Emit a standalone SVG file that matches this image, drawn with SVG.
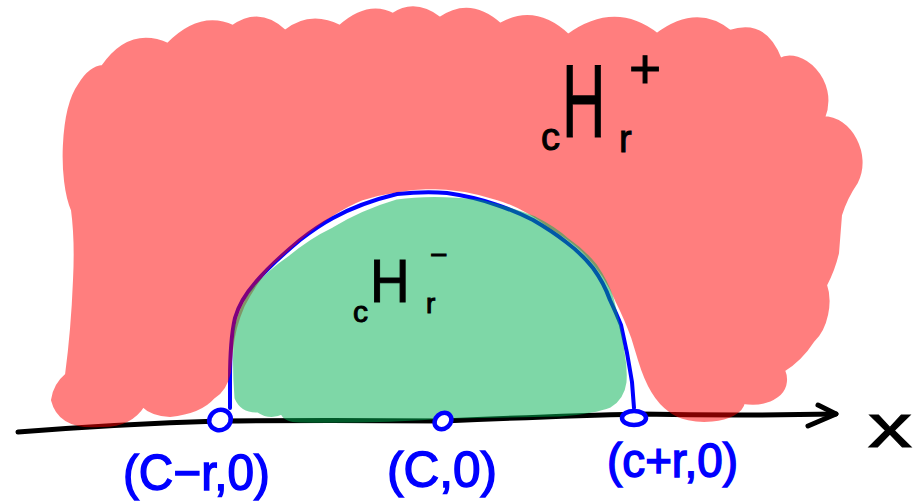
<svg xmlns="http://www.w3.org/2000/svg" width="913" height="504" viewBox="0 0 913 504">
<style>
.ink{fill:#000;font-family:"Liberation Sans",Arial,sans-serif;stroke:#000;stroke-width:1}
.lbl{fill:#00f;font-family:"Liberation Sans",Arial,sans-serif;stroke:#00f;stroke-width:1.5}
.blue{fill:none;stroke:#00f;stroke-width:4;stroke-linecap:round;stroke-linejoin:round}
.pt{fill:#fff;stroke:#00f;stroke-width:4.5}
</style>
<rect width="913" height="504" fill="#fff"/>
<g id="connectors">
<path id="axis" d="M18,432 Q120,424 220,421 Q330,420 443,421 Q560,416 640,414 Q740,416 836,414" fill="none" stroke="#000" stroke-width="5" stroke-linecap="round"/>
<path d="M818,405 L836,414 L808,426" fill="none" stroke="#000" stroke-width="5" stroke-linecap="round" stroke-linejoin="round"/>
<path id="boundary" class="blue" d="M230,408 L230,380 Q230,340 235,318 Q240,300 255,283 Q270,265 300,240 Q318,226 333,218 Q360,203 397,194 Q425,191 447,193 Q475,197 497,205 Q515,211 533,220 Q552,231 566,242 Q582,254 593,268 Q604,283 610,300 Q617,315 621,325 L627,353 Q630,370 632,382 L634,408"/>
</g>
<g id="region-plus" opacity="0.5">
<path fill="#f00" stroke="#f00" stroke-width="4" stroke-linejoin="round" d="M73,210 C60,180 62,110 80,85 Q90,68 103,67 Q130,28 168,45 Q200,12 233,27 Q260,8 285,32 Q310,12 340,27 Q368,2 393,15 Q415,0 440,19 Q470,-2 500,25 Q535,5 568,36 Q615,2 657,35 Q697,5 730,32 Q765,20 780,60 C800,48 838,80 823,118 C850,118 870,155 856,182 Q845,198 840,215 L837,253 Q833,270 825,285 C831,302 826,328 813,340 Q800,360 783,370 C792,392 770,406 743,402 C740,422 688,426 670,410 C655,400 646,380 640,360 L633,337 Q627,320 617,300 Q606,273 583,250 Q567,236 550,226 Q522,205 497,198 Q462,187 430,187 Q397,188 363,198 Q333,210 300,238 L272,263 Q256,280 243,305 Q233,328 231,350 L229,372 Q225,390 213,397 Q200,412 170,415 Q152,414 143,405 Q130,426 100,425 Q60,428 53,400 Q55,385 67,375 Q73,330 75,280 Q77,240 73,210 Z"/>
</g>
<g id="region-minus" opacity="0.5">
<path fill="#00b152" stroke="#00b152" stroke-width="3" stroke-linejoin="round" d="M236,398 Q233,360 236,328 Q241,306 254,289 Q268,272 290,257 Q310,240 333,229 Q363,211 397,201 Q430,196 480,201 Q510,208 535,218 Q555,228 568,240 Q585,252 596,266 Q607,282 612,298 L617,318 Q621,335 623,352 Q626,368 625,382 Q623,398 610,406 Q595,412 560,415 L450,417 Q380,422 300,421 Q285,421 282,413 Q270,419 258,411 Q242,412 236,398 Z"/>
</g>
<g id="points">
<ellipse class="pt" cx="220" cy="420" rx="11" ry="10" transform="rotate(-30 220 420)"/>
<ellipse class="pt" cx="443" cy="421" rx="9" ry="7.5" transform="rotate(-40 443 421)"/>
<ellipse class="pt" cx="634" cy="418" rx="12" ry="7"/>
</g>
<g id="label-Hplus">
<text class="ink" x="541" y="150" font-size="38">c</text>
<text class="ink" font-size="104" transform="translate(562,137) scale(0.58,1)">H</text>
<text class="ink" x="619" y="152" font-size="38">r</text>
<text class="ink" x="629" y="88" font-size="55">+</text>
</g>
<g id="label-Hminus">
<text class="ink" x="353" y="322" font-size="30">c</text>
<text class="ink" font-size="61" transform="translate(370,302) scale(0.9,1)">H</text>
<text class="ink" x="426" y="313" font-size="28">r</text>
<text class="ink" x="430" y="265" font-size="30">−</text>
</g>
<g id="labels">
<text class="lbl" x="123" y="490" font-size="50" textLength="147" lengthAdjust="spacingAndGlyphs">(C−r,0)</text>
<text class="lbl" x="387" y="487" font-size="50" textLength="110" lengthAdjust="spacingAndGlyphs">(C,0)</text>
<text class="lbl" x="607" y="477" font-size="48" textLength="131" lengthAdjust="spacingAndGlyphs">(c+r,0)</text>
<text class="ink" x="868" y="447" font-size="62" textLength="44" lengthAdjust="spacingAndGlyphs">x</text>
</g>
</svg>
